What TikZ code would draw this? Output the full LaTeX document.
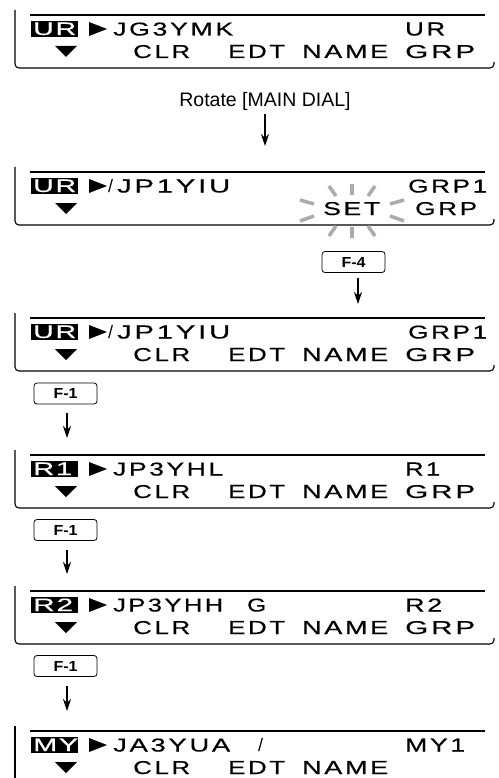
\documentclass[tikz,border=0pt]{standalone}
\usepackage{fontspec}
\usepackage{graphicx}
\setmainfont{Liberation Sans}
\newfontfamily\lcdf[LetterSpace=10,FakeBold=0.5]{Liberation Sans}
\newfontfamily\labf[LetterSpace=6,FakeBold=0.5]{Liberation Sans}
\newcommand\lw[2]{\resizebox{#1pt}{13pt}{\lcdf\fontsize{18}{18}\selectfont #2}}
\newcommand\lbw[2]{\resizebox{#1pt}{12.5pt}{\labf\fontsize{18}{18}\selectfont #2}}
\newcommand\slashc{{\fontsize{18}{18}\selectfont /}}
\usetikzlibrary{arrows.meta}
\tikzset{
 topline/.style={line width=1.1pt},
 frameline/.style={line width=1.1pt, rounded corners=4pt},
 labbox/.style={fill=black},
 labtext/.style={text=white, inner sep=0pt, anchor=base west},
 lcdtext/.style={inner sep=0pt, anchor=base west},
 keybox/.style={draw, rounded corners=3pt, line width=0.8pt, minimum width=63pt, minimum height=21pt, inner sep=0pt},
 flow/.style={line width=1.2pt, -{Stealth[length=12pt,width=8pt]}},
 ray/.style={line width=3.5pt, draw=black!33},
 tri/.style={fill=black},
}
\newcommand\keytext[1]{\resizebox{24pt}{10pt}{\bfseries #1}}
\newcommand\dispframe[1]{%
  \draw[topline] (30,#1) -- (485,#1);
  \draw[frameline] (15,{#1-5}) -- (15,{#1+53}) -- (494,{#1+53}) -- (494,{#1+47});
}
\newcommand\dispmarks[1]{%
  \fill[labbox] (31,{#1+6}) rectangle (78,{#1+22});
  \fill[tri] (89,{#1+7}) -- (107,{#1+14}) -- (89,{#1+21}) -- cycle;
  \fill[tri] (55,{#1+31}) -- (77,{#1+31}) -- (66,{#1+42}) -- cycle;
}
\begin{document}
\begin{tikzpicture}[x=1pt,y=-1pt]
\useasboundingbox (0,0) rectangle (498,778);
% ---------- display 1
\dispframe{15}
\dispmarks{15}
\node[labtext] (l1) at (33,35) {\lbw{43}{UR}};
\node[lcdtext] (c1) at (113,35.5) {\lw{120}{JG3YMK}};
\node[lcdtext] (r1) at (405,35.5) {\lw{40}{UR}};
\node[lcdtext] (s1a) at (133,58) {\lw{57}{CLR}};
\node[lcdtext] (s1b) at (228,58) {\lw{57}{EDT}};
\node[lcdtext] (s1c) at (302,58) {\lw{86}{NAME}};
\node[lcdtext] (s1d) at (405,58) {\lw{70}{GRP}};
\node[font=\fontsize{19.5}{19.5}\selectfont] (rot) at (265,101) {Rotate [MAIN DIAL]};
\coordinate (e1) at (265,146);
\draw[flow] (265,114) -- (e1);
% ---------- display 2
\dispframe{172}
\dispmarks{172}
\node[labtext] (l2) at (33,192) {\lbw{43}{UR}};
\node[lcdtext] (c2a) at (108,192.5) {\slashc};
\node[lcdtext] (c2) at (117,192.5) {\lw{113}{JP1YIU}};
\node[lcdtext] (r2) at (408,192.5) {\lw{79}{GRP1}};
\node[lcdtext] (s2a) at (323,215) {\lw{57}{SET}};
\node[lcdtext] (s2b) at (415,215) {\lw{62}{GRP}};
\draw[ray] (352,195) -- (352,184);
\draw[ray] (336,196) -- (329,186);
\draw[ray] (368,196) -- (375,186);
\draw[ray] (352,227) -- (352,238);
\draw[ray] (336,226) -- (329,236);
\draw[ray] (368,226) -- (375,236);
\draw[ray] (314,204) -- (300,200);
\draw[ray] (314,216) -- (300,221);
\draw[ray] (390,204) -- (404,200);
\draw[ray] (390,216) -- (404,221);
\node[keybox] (k4) at (353.5,262) {\keytext{F-4}};
\coordinate (e2) at (358,304);
\draw[flow] (358,278) -- (e2);
% ---------- display 3
\dispframe{318}
\dispmarks{318}
\node[labtext] (l3) at (33,338) {\lbw{43}{UR}};
\node[lcdtext] (c3a) at (108,338.5) {\slashc};
\node[lcdtext] (c3) at (117,338.5) {\lw{113}{JP1YIU}};
\node[lcdtext] (r3) at (408,338.5) {\lw{79}{GRP1}};
\node[lcdtext] (s3a) at (133,361) {\lw{57}{CLR}};
\node[lcdtext] (s3b) at (228,361) {\lw{57}{EDT}};
\node[lcdtext] (s3c) at (302,361) {\lw{86}{NAME}};
\node[lcdtext] (s3d) at (405,361) {\lw{70}{GRP}};
\node[keybox] (k1a) at (65.5,393.5) {\keytext{F-1}};
\coordinate (e3) at (67,438);
\draw[flow] (67,413) -- (e3);
% ---------- display 4
\dispframe{455}
\dispmarks{455}
\node[labtext] (l4) at (33,475) {\lbw{39}{R1}};
\node[lcdtext] (c4) at (113,475.5) {\lw{110}{JP3YHL}};
\node[lcdtext] (r4) at (405,475.5) {\lw{35}{R1}};
\node[lcdtext] (s4a) at (133,498) {\lw{57}{CLR}};
\node[lcdtext] (s4b) at (228,498) {\lw{57}{EDT}};
\node[lcdtext] (s4c) at (302,498) {\lw{86}{NAME}};
\node[lcdtext] (s4d) at (405,498) {\lw{70}{GRP}};
\node[keybox] (k1b) at (65.5,530) {\keytext{F-1}};
\coordinate (e4) at (67,574);
\draw[flow] (67,550) -- (e4);
% ---------- display 5
\dispframe{591}
\dispmarks{591}
\node[labtext] (l5) at (33,611) {\lbw{40}{R2}};
\node[lcdtext] (c5) at (113,611.5) {\lw{110}{JP3YHH}};
\node[lcdtext] (c5b) at (247,611.5) {\lw{19}{G}};
\node[lcdtext] (r5) at (405,611.5) {\lw{37}{R2}};
\node[lcdtext] (s5a) at (133,634) {\lw{57}{CLR}};
\node[lcdtext] (s5b) at (228,634) {\lw{57}{EDT}};
\node[lcdtext] (s5c) at (302,634) {\lw{86}{NAME}};
\node[lcdtext] (s5d) at (405,634) {\lw{70}{GRP}};
\node[keybox] (k1c) at (65.5,666) {\keytext{F-1}};
\coordinate (e5) at (67,711);
\draw[flow] (67,686) -- (e5);
% ---------- display 6
\draw[topline] (30,731) -- (485,731);
\draw[frameline] (15,726) -- (15,778);
\dispmarks{731}
\node[labtext] (l6) at (33,751) {\lbw{45}{MY}};
\node[lcdtext] (c6) at (113,751.5) {\lw{117}{JA3YUA}};
\node[lcdtext] (c6b) at (258,751.5) {\slashc};
\node[lcdtext] (r6) at (405,751.5) {\lw{60}{MY1}};
\node[lcdtext] (s6a) at (133,774) {\lw{57}{CLR}};
\node[lcdtext] (s6b) at (228,774) {\lw{57}{EDT}};
\node[lcdtext] (s6c) at (302,774) {\lw{86}{NAME}};
\end{tikzpicture}
\end{document}
